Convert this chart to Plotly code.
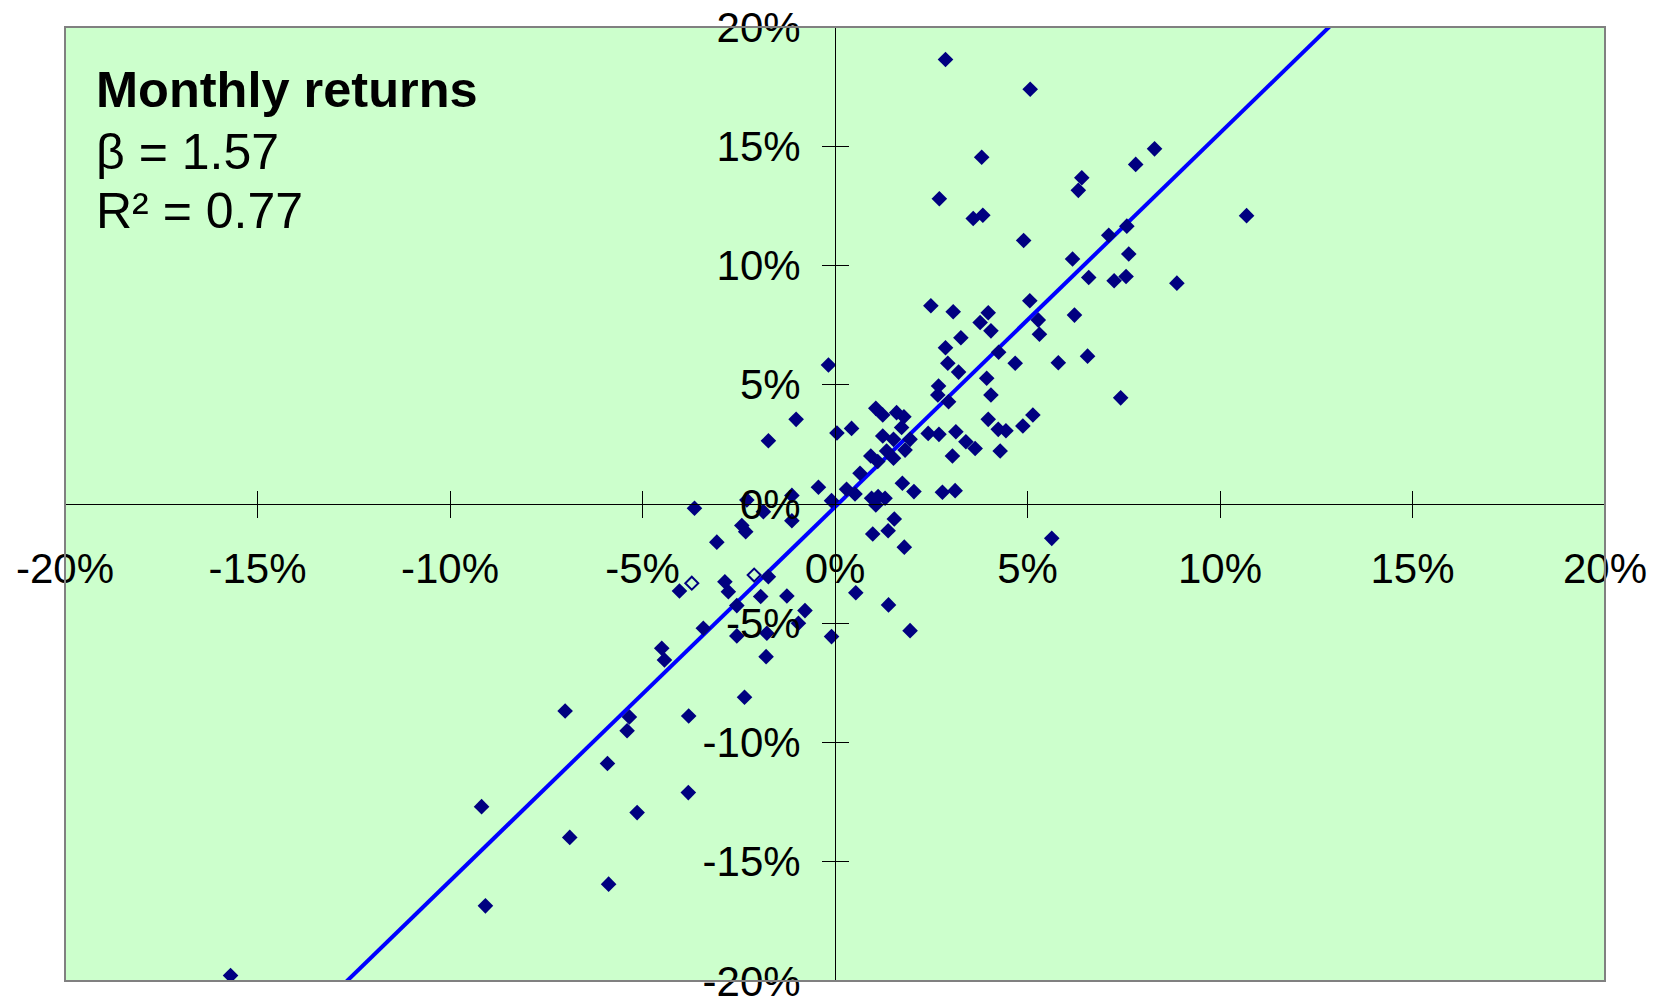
import plotly.graph_objects as go

# Monthly returns (in %): market (x) vs stock (y)
market_pct = [
    2.87, 5.07, 3.81, 2.71, 3.59, 3.84, 4.90, 6.41, 6.32, 7.81,
    8.30, 7.11, 7.58, 6.17, 7.63, 6.59, 7.25, 7.56, 8.88, 10.69,
    2.49, 3.07, 3.98, 3.77, 4.05, 5.06, 5.28, 5.31, 6.22, 3.27,
    2.87, 4.25, 2.93, 3.21, 4.68, 5.80, 6.56, 3.94, 2.69, 2.67,
    2.95, 4.05, -0.17, -1.01, -1.73, 0.05, 0.43, 1.06, 1.24, 1.60,
    1.79, 1.73, 1.24, 1.52, 1.95, 2.42, 2.70, 3.14, 3.40, 3.64,
    3.98, 4.24, 4.44, 4.88, 5.14, 4.29, 3.05, 1.34, 1.52, 1.82,
    0.93, 1.11, 0.65, 0.30, 0.52, -0.43, -0.09, 1.75, 2.05, 2.79,
    3.12, 0.95, 1.12, 1.30, 1.06, 1.54, 1.38, 0.98, 5.63, -3.65,
    -2.29, -1.86, -1.12, -1.12, -2.42, -2.32, -3.07, 1.80, 1.39, 0.54,
    1.95, -0.09, -1.73, -4.04, -2.86, -2.77, -2.55, -1.93, -1.25, -0.78,
    -0.95, -1.77, -2.55, -3.42, -1.79, -4.50, -4.43, -2.35, -3.80, -5.34,
    -5.40, -5.91, -3.81, -5.14, -7.01, -6.89, -5.88, -9.18, -9.08, -15.70,
    7.42,
]
stock_pct = [
    18.64, 17.39, 14.54, 12.80, 11.97, 12.11, 11.05, 13.68, 13.15, 14.24,
    14.89, 11.27, 11.65, 10.27, 10.48, 9.50, 9.36, 9.54, 9.26, 12.09,
    8.31, 8.06, 8.02, 7.61, 7.26, 8.52, 7.71, 7.12, 7.92, 6.97,
    6.55, 6.36, 5.90, 5.53, 5.90, 5.92, 6.20, 5.27, 4.95, 4.57,
    4.29, 4.57, 5.83, 3.55, 2.65, 2.98, 3.17, 4.01, 3.73, 3.83,
    3.66, 3.21, 2.85, 2.71, 2.71, 2.96, 2.92, 3.03, 2.61, 2.33,
    3.55, 3.13, 3.07, 3.27, 3.73, 2.22, 2.01, 2.22, 1.92, 2.26,
    2.01, 1.78, 1.29, 0.62, 0.42, 0.70, 0.14, 0.87, 0.52, 0.49,
    0.56, 0.24, 0.31, 0.24, -0.04, -0.63, -1.12, -1.26, -1.44, -0.18,
    0.17, -0.32, 0.36, -0.70, -0.90, -1.16, -1.60, -1.81, -4.23, -3.72,
    -5.31, -5.56, -3.05, -3.65, -3.26, -3.68, -4.26, -3.88, -3.86, -4.47,
    -5.00, -5.42, -5.53, -5.21, -6.40, -6.05, -6.54, -8.10, -8.89, -8.93,
    -9.51, -10.88, -12.10, -12.94, -8.68, -13.98, -15.94, -12.69, -16.85, -19.77,
    4.45,
]
# two points drawn as hollow diamonds
hollow_market_pct = [-2.10, -3.72]
hollow_stock_pct = [-2.98, -3.32]

# regression line end points, beta = 1.57
trend_x_pct = [-12.81, 13.00]
trend_y_pct = [-20.21, 20.26]

# axis ticks
tick_vals_pct = [-20, -15, -10, -5, 0, 5, 10, 15, 20]
tick_labels = ["-20%", "-15%", "-10%", "-5%", "0%", "5%", "10%", "15%", "20%"]

title_text = "<b>Monthly returns</b>"
beta_text = "\u03b2 = 1.57"
r2_text = "R\u00b2 = 0.77"

FONT = "Arial, 'Liberation Sans', sans-serif"
NAVY = "#000080"

fig = go.Figure()

fig.add_trace(go.Scatter(
    x=[v / 100 for v in trend_x_pct], y=[v / 100 for v in trend_y_pct],
    mode="lines", line=dict(color="#0000FF", width=4),
    hoverinfo="skip", showlegend=False,
))
fig.add_trace(go.Scatter(
    x=[v / 100 for v in market_pct], y=[v / 100 for v in stock_pct],
    mode="markers",
    marker=dict(symbol="diamond", size=12, color=NAVY, line=dict(width=0)),
    showlegend=False,
))
fig.add_trace(go.Scatter(
    x=[v / 100 for v in hollow_market_pct], y=[v / 100 for v in hollow_stock_pct],
    mode="markers",
    marker=dict(symbol="diamond-open", size=10, color=NAVY, line=dict(width=2, color=NAVY)),
    showlegend=False,
))
# dummy trace to create the overlay axes used for crossing ticks
fig.add_trace(go.Scatter(x=[0], y=[0], xaxis="x2", yaxis="y2", opacity=0,
                         mode="markers", showlegend=False, hoverinfo="skip"))

tickvals = [v / 100 for v in tick_vals_pct]
common = dict(range=[-0.2, 0.2], tickmode="array", tickvals=tickvals,
              showgrid=False, zeroline=False, showline=True,
              linecolor="black", linewidth=1, tickcolor="black",
              tickwidth=1, ticklen=13, anchor="free", position=0.5,
              automargin=False, fixedrange=True)

fig.update_layout(
    width=1659, height=1000,
    margin=dict(l=57, r=62, t=19, b=27, autoexpand=False),
    paper_bgcolor="white", plot_bgcolor="#CCFFCC",
    font=dict(family=FONT, color="black"),
    xaxis=dict(**common, ticks="outside", showticklabels=True, ticktext=tick_labels,
               tickfont=dict(size=42, family=FONT, color="black"),
               ticklabelstandoff=15, ticklabeloverflow="allow"),
    yaxis=dict(**common, ticks="outside", showticklabels=True, ticktext=tick_labels,
               tickfont=dict(size=42, family=FONT, color="black"),
               ticklabelstandoff=13, ticklabeloverflow="allow"),
    xaxis2=dict(**common, ticks="inside", showticklabels=False, overlaying="x"),
    yaxis2=dict(**common, ticks="inside", showticklabels=False, overlaying="y"),
    shapes=[dict(type="rect", xref="paper", yref="paper", x0=0, y0=0, x1=1, y1=1,
                 line=dict(color="#808080", width=2), layer="above")],
    annotations=[
        dict(text=title_text, xref="paper", yref="paper", x=0.0187, y=0.9021,
             xanchor="left", yanchor="bottom", showarrow=False,
             font=dict(size=50.5, family=FONT, color="black")),
        dict(text=beta_text, xref="paper", yref="paper", x=0.0187, y=0.8375,
             xanchor="left", yanchor="bottom", showarrow=False,
             font=dict(size=50, family=FONT, color="black")),
        dict(text=r2_text, xref="paper", yref="paper", x=0.0187, y=0.7760,
             xanchor="left", yanchor="bottom", showarrow=False,
             font=dict(size=50, family=FONT, color="black")),
    ],
)

fig.write_html("out.html")
